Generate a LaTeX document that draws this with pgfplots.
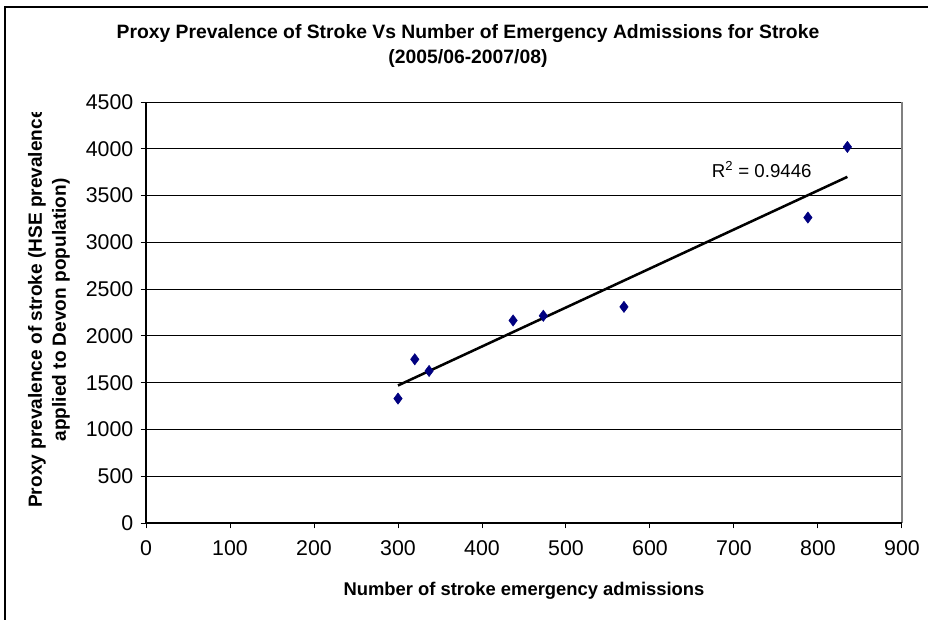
\documentclass[border=0pt]{standalone}
\usepackage{fontspec}
\setmainfont{Liberation Sans}
\usepackage{pgfplots}
\pgfplotsset{compat=1.18}
\definecolor{navy}{HTML}{000080}
\definecolor{framegray}{HTML}{808080}

\begin{document}
\begin{tikzpicture}[x=0.75pt,y=0.75pt]
  % picture area in pixel-like units
  \useasboundingbox (0,0) rectangle (928,619);
  % chart area border
  \draw[black,line width=1.2pt] (5,612) rectangle (960,-40);
  % lower left corner of the plot area
  \coordinate (plotorigin) at (146,96);

  % title
  \node[font=\bfseries\fontsize{14.5}{17}\selectfont,align=center] at (468,573)
    {Proxy Prevalence of Stroke Vs Number of Emergency Admissions for Stroke\\[2pt](2005/06-2007/08)};

  \begin{axis}[
    at={(plotorigin)}, anchor=origin,
    scale only axis,
    width=567pt, height=315.75pt,
    xmin=0, xmax=900, ymin=0, ymax=4500,
    xtick distance=100, ytick distance=500,
    xtick pos=bottom, ytick pos=left,
    tick align=outside,
    major tick length=4pt,
    tick style={black,line width=0.75pt},
    axis line style={draw=none},
    ymajorgrids,
    grid style={black,line width=0.75pt},
    /pgf/number format/assume math mode=true,
    /pgf/number format/1000 sep={},
    ticklabel style={font=\fontsize{16}{18}\selectfont},
    yticklabel style={xshift=-2pt},
    xticklabel style={yshift=-5.5pt},
    xlabel={Number of stroke emergency admissions},
    xlabel style={font=\bfseries\fontsize{13.8}{16}\selectfont, yshift=-13pt},
    clip=false,
  ]
    % frame of the plot area
    \draw[framegray,line width=1pt] (rel axis cs:1,0) -- (rel axis cs:1,1);
    \draw[black,line width=0.9pt] (rel axis cs:0,0) -- (rel axis cs:0,1);
    \draw[black,line width=0.9pt] (rel axis cs:0,0) -- (rel axis cs:1,0);

    % linear trend
    \addplot[black,line width=1.9pt] coordinates {(300,1470) (835,3700)};

    % observations
    \addplot[only marks, mark=diamond*, mark size=4.2pt,
             mark options={fill=navy,draw=navy}] coordinates {
      (300,1330) (320,1750) (337,1625) (437,2165)
      (473,2215) (569,2310) (788,3265) (835,4020)
    };

    \node[font=\fontsize{14}{16}\selectfont] at (axis cs:733,3780) {R\textsuperscript{2} = 0.9446};
  \end{axis}

  % y-axis title, wrapped over two lines and cut at the top
  \begin{scope}
    \clip (0,0) rectangle (928,506);
    \node[rotate=90,font=\bfseries\fontsize{14.3}{16}\selectfont,anchor=center] at (37,311)
      {Proxy prevalence of stroke (HSE prevalence};
  \end{scope}
  \node[rotate=90,font=\bfseries\fontsize{14.3}{16}\selectfont] at (61,309)
    {applied to Devon population)};
\end{tikzpicture}
\end{document}
